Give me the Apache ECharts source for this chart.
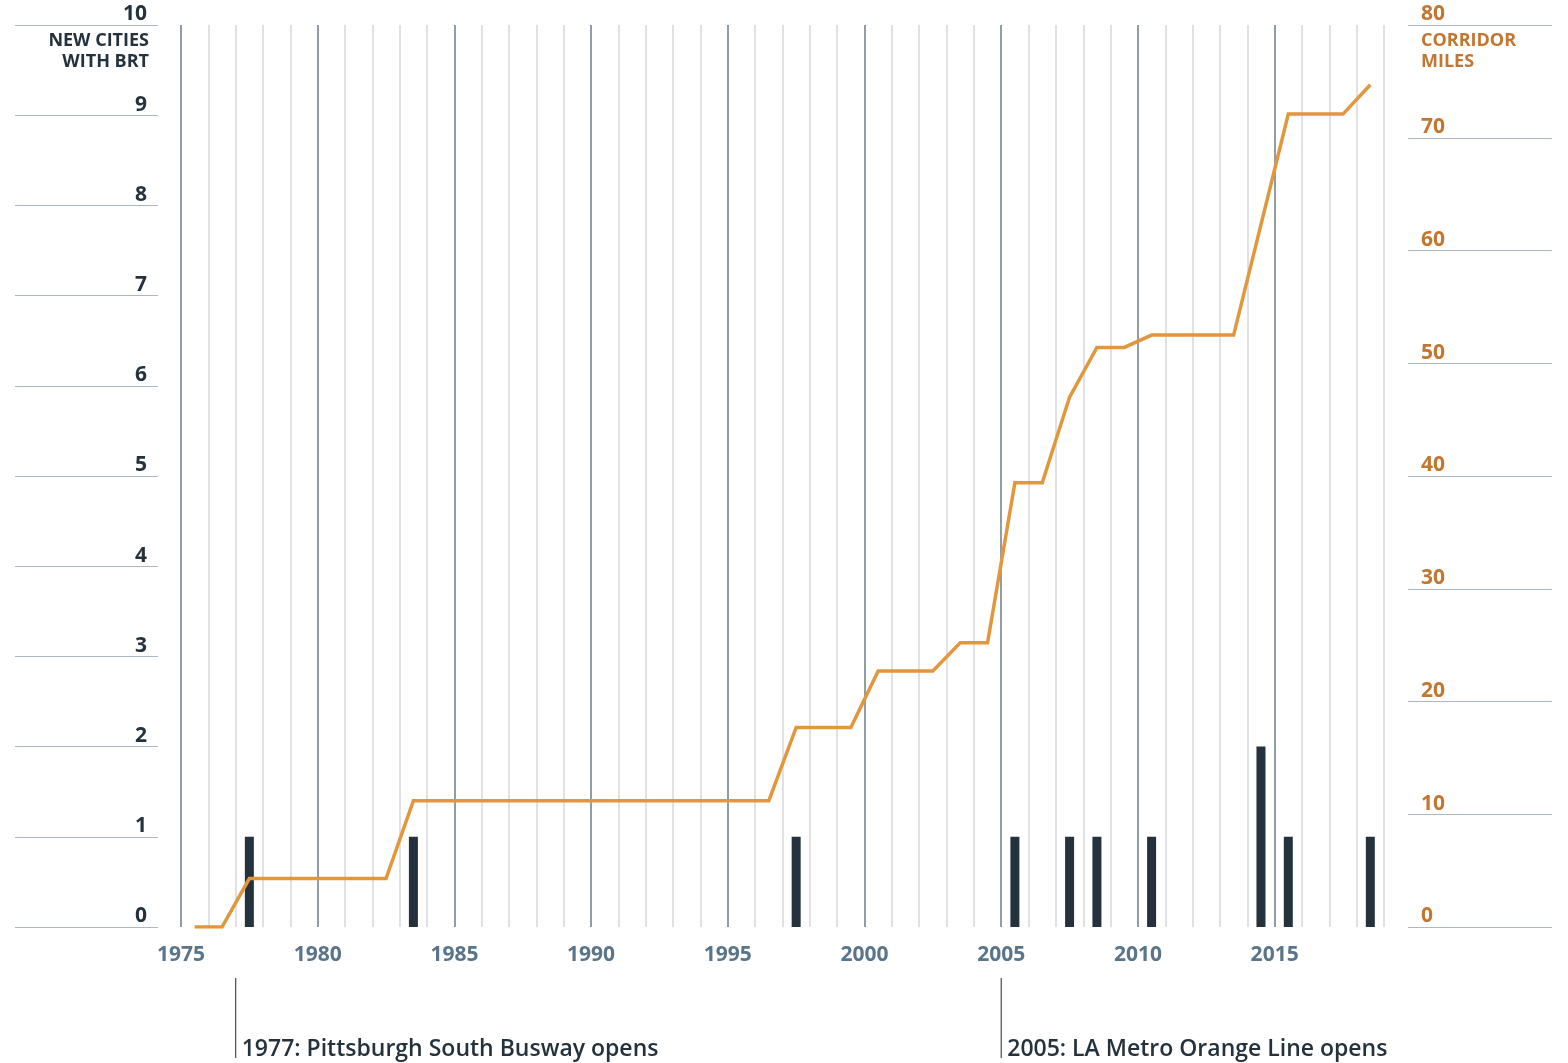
<!DOCTYPE html>
<html>
<head>
<meta charset="utf-8">
<script src="https://cdn.jsdelivr.net/npm/echarts@6/dist/echarts.min.js"></script>
<style>
html,body{margin:0;padding:0;background:#fff;}
#chart{width:1568px;height:1063px;}
</style>
</head>
<body>
<div id="chart"></div>
<script>
// ---- data ----
const years = [];
for (let y = 1975; y <= 2018; y++) years.push(String(y));

// New cities with BRT (left axis), by year
const newCities = [0,0,1,0,0,0,0,0,1,0, 0,0,0,0,0,0,0,0,0,0, 0,0,1,0,0,0,0,0,0,0, 1,0,1,1,0,1,0,0,0,2, 1,0,0,1];
// Corridor miles (right axis), cumulative
const corridorMiles = [0,0,4.3,4.3,4.3,4.3,4.3,4.3,11.2,11.2, 11.2,11.2,11.2,11.2,11.2,11.2,11.2,11.2,11.2,11.2, 11.2,11.2,17.7,17.7,17.7,22.7,22.7,22.7,25.2,25.2, 39.4,39.4,47.0,51.4,51.4,52.5,52.5,52.5,52.5,62.3, 72.1,72.1,72.1,74.7];

const annotationYears = [1977, 2005];
const annotationTexts = ['1977: Pittsburgh South Busway opens', '2005: LA Metro Orange Line opens'];

const leftTitle = 'NEW CITIES\nWITH BRT';
const rightTitle = 'CORRIDOR\nMILES';

// ---- styles ----
const FONT = '"Open Sans", "Noto Sans", sans-serif';
const DARK = '#23323c';
const ORANGE_TXT = '#c27630';
const LINE_ORANGE = '#e2973c';
const YEAR_TXT = '#5a7489';
const HLINE = '#a9b8c4';
const VDARK = '#6b7d8a';
const VLIGHT = '#d3d9de';

const TOP = 25, BOTTOM = 136;

const chart = echarts.init(document.getElementById('chart'), null, {renderer: 'canvas'});

const option = {
  animation: false,
  backgroundColor: '#ffffff',
  grid: [
    {left: 15, width: 143, top: TOP, bottom: BOTTOM},
    {left: 181, right: 184, top: TOP, bottom: BOTTOM},
    {left: 1408, right: 16, top: TOP, bottom: BOTTOM}
  ],
  xAxis: [
    {gridIndex: 0, type: 'value', show: false, min: 0, max: 1},
    {gridIndex: 1, type: 'category', data: years, position: 'top', boundaryGap: true,
      axisLine: {show: false}, axisTick: {show: false}, axisLabel: {show: false}, splitLine: {show: false}},
    {gridIndex: 1, type: 'value', position: 'bottom', min: 1975, max: 2019, interval: 1,
      axisLine: {show: false}, axisTick: {show: false},
      axisLabel: {
        margin: 18, color: YEAR_TXT, fontSize: 21, fontWeight: 'bold', fontFamily: FONT,
        formatter: v => (v % 5 === 0 ? String(v) : ''),
        showMinLabel: true, showMaxLabel: true
      },
      splitLine: {show: true, showMinLine: true, showMaxLine: true,
        lineStyle: {color: [VDARK, VLIGHT, VLIGHT, VLIGHT, VLIGHT], width: 1.5}}
    },
    {gridIndex: 2, type: 'value', show: false, min: 0, max: 1}
  ],
  yAxis: [
    {gridIndex: 0, type: 'value', position: 'right', min: 0, max: 10, interval: 1,
      axisLine: {show: false}, axisTick: {show: false},
      axisLabel: {inside: true, margin: 11, verticalAlign: 'bottom', padding: [0, 0, 0, 0],
        color: DARK, fontSize: 21, fontWeight: 'bold', fontFamily: FONT},
      splitLine: {show: true, lineStyle: {color: HLINE, width: 1}}
    },
    {gridIndex: 1, type: 'value', position: 'left', min: 0, max: 10, interval: 1, show: false},
    {gridIndex: 1, type: 'value', position: 'right', min: 0, max: 80, interval: 10, show: false},
    {gridIndex: 2, type: 'value', position: 'left', min: 0, max: 80, interval: 10,
      axisLine: {show: false}, axisTick: {show: false},
      axisLabel: {inside: true, margin: 13, verticalAlign: 'bottom', padding: [0, 0, 0, 0],
        color: ORANGE_TXT, fontSize: 21, fontWeight: 'bold', fontFamily: FONT},
      splitLine: {show: true, lineStyle: {color: HLINE, width: 1}}
    }
  ],
  series: [
    {type: 'bar', name: 'New cities with BRT', xAxisIndex: 1, yAxisIndex: 1, data: newCities,
      barWidth: 9, itemStyle: {color: DARK}, z: 3},
    {type: 'line', name: 'Corridor miles', xAxisIndex: 1, yAxisIndex: 2, data: corridorMiles,
      showSymbol: false, symbol: 'none', lineStyle: {color: LINE_ORANGE, width: 3.5, join: 'miter'}, z: 4}
  ],
  graphic: []
};

chart.setOption(option);

// Titles and annotations
const graphics = [
  {type: 'text', style: {text: leftTitle, x: 149, y: 30, align: 'right', verticalAlign: 'top',
    fill: DARK, font: 'bold 18px ' + FONT, lineHeight: 21}},
  {type: 'text', style: {text: rightTitle, x: 1421, y: 30, align: 'left', verticalAlign: 'top',
    fill: ORANGE_TXT, font: 'bold 18px ' + FONT, lineHeight: 21}}
];
annotationYears.forEach((yr, i) => {
  const x = chart.convertToPixel({xAxisIndex: 2}, yr);
  graphics.push({type: 'line', shape: {x1: x, y1: 978, x2: x, y2: 1058},
    style: {stroke: '#4a4a4a', lineWidth: 1.2}});
  graphics.push({type: 'text', style: {text: annotationTexts[i], x: x + 6, y: 1049,
    align: 'left', verticalAlign: 'middle', fill: DARK, font: '600 23px ' + FONT}});
});
chart.setOption({graphic: graphics});
</script>
</body>
</html>
